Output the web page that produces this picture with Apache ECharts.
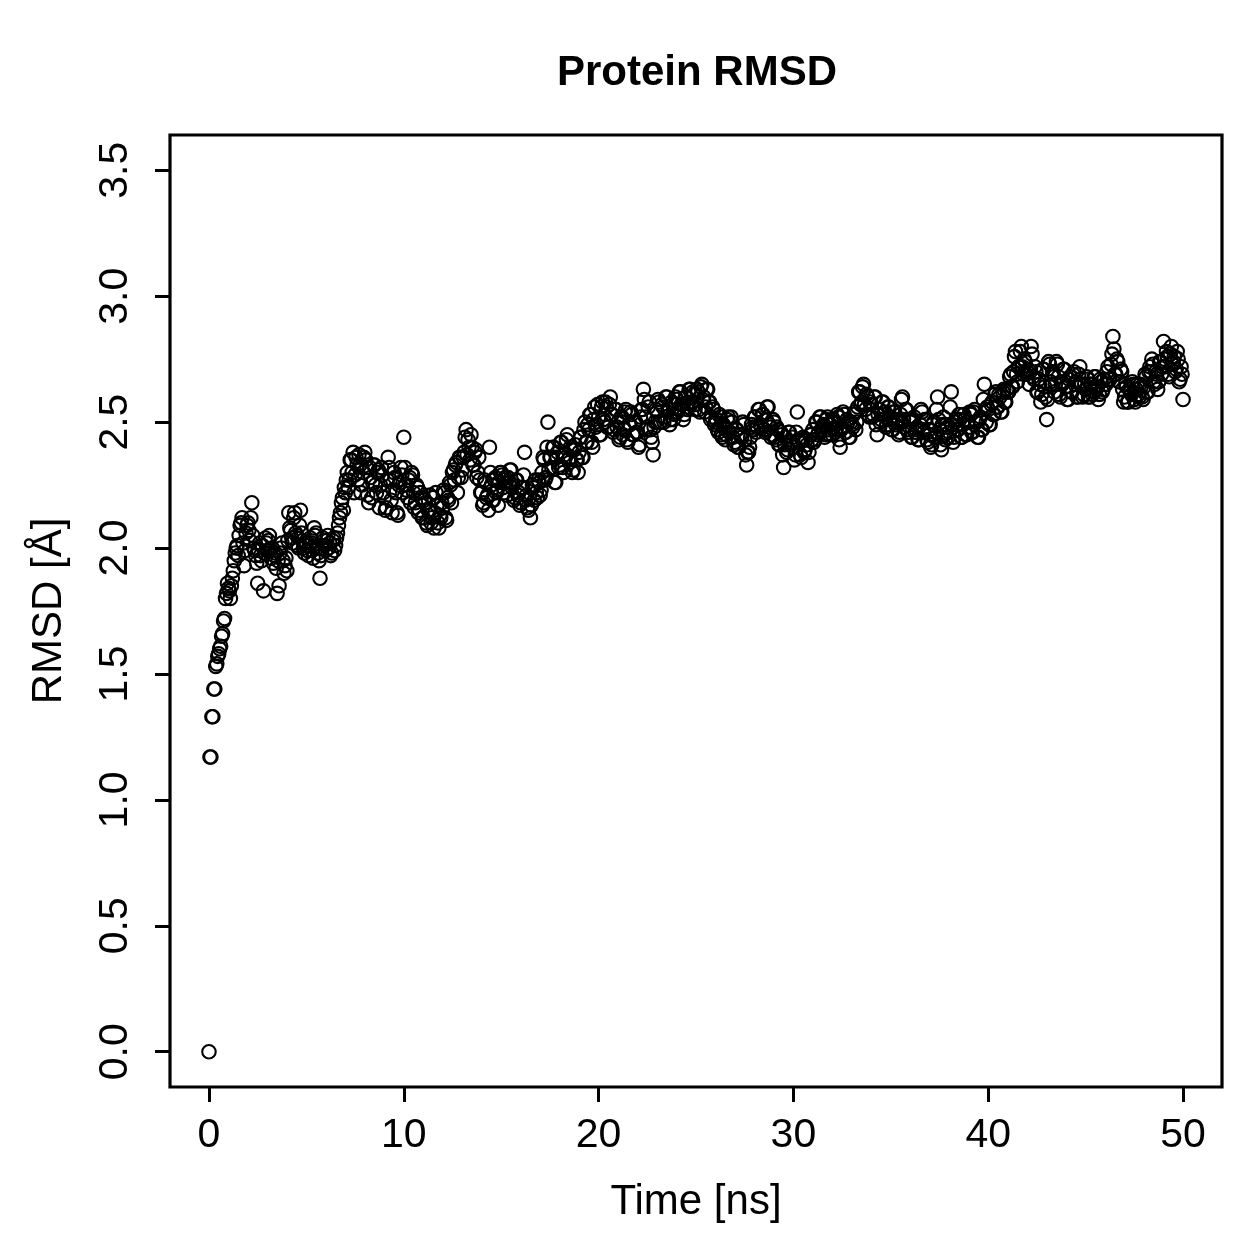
<!DOCTYPE html>
<html>
<head>
<meta charset="utf-8">
<script src="https://cdn.jsdelivr.net/npm/echarts@6/dist/echarts.min.js"></script>
<style>
  html, body { margin: 0; padding: 0; background: #fff; }
  #rmsd { width: 1259px; height: 1259px; }
</style>
</head>
<body>
<div id="rmsd"></div>
<script>
// time step of the trajectory frames (ns)
var timeStep = 0.1;

// RMSD [A] at t = 0.0, 0.1, 0.2 ... ns, one row per ns
var rmsdFrames = [
  0.00,1.17,1.33,1.44,1.54,1.58,1.61,1.66,1.72,1.82,
  1.84,1.80,1.88,1.95,2.00,1.97,2.09,2.12,1.93,2.06,
  2.10,2.03,2.18,2.00,1.97,1.86,2.02,1.95,1.83,2.04,
  1.99,2.05,1.96,1.94,1.98,1.82,1.85,2.00,1.95,1.93,
  1.91,2.14,2.07,2.02,2.14,2.05,2.00,2.15,2.03,1.98,
  2.02,1.97,2.04,1.99,2.08,2.06,1.98,1.88,2.00,2.03,
  1.99,2.05,2.02,1.98,2.04,2.01,2.06,2.12,2.18,2.15,
  2.22,2.30,2.27,2.35,2.38,2.29,2.33,2.37,2.22,2.30,
  2.38,2.32,2.18,2.28,2.26,2.33,2.22,2.31,2.25,2.29,
  2.20,2.16,2.36,2.27,2.14,2.30,2.22,2.13,2.26,2.29,
  2.44,2.25,2.20,2.28,2.30,2.22,2.18,2.24,2.15,2.20,
  2.12,2.18,2.09,2.15,2.10,2.20,2.14,2.17,2.08,2.12,
  2.16,2.22,2.11,2.19,2.25,2.30,2.27,2.34,2.28,2.36,
  2.31,2.38,2.47,2.43,2.35,2.40,2.33,2.39,2.30,2.27,
  2.22,2.18,2.26,2.21,2.40,2.25,2.19,2.28,2.23,2.26,
  2.30,2.24,2.28,2.21,2.26,2.31,2.25,2.20,2.27,2.22,
  2.18,2.24,2.38,2.21,2.15,2.12,2.25,2.19,2.22,2.27,
  2.21,2.30,2.35,2.28,2.50,2.36,2.32,2.40,2.26,2.38,
  2.33,2.42,2.30,2.36,2.45,2.34,2.39,2.31,2.41,2.35,
  2.38,2.44,2.36,2.50,2.42,2.47,2.53,2.40,2.56,2.49,
  2.52,2.45,2.58,2.50,2.56,2.48,2.60,2.53,2.47,2.55,
  2.50,2.44,2.52,2.47,2.55,2.42,2.49,2.53,2.45,2.50,
  2.46,2.41,2.55,2.63,2.52,2.48,2.58,2.44,2.37,2.50,
  2.54,2.58,2.50,2.56,2.52,2.60,2.55,2.51,2.57,2.53,
  2.59,2.55,2.62,2.57,2.53,2.60,2.56,2.63,2.58,2.61,
  2.57,2.62,2.54,2.65,2.60,2.56,2.63,2.58,2.52,2.55,
  2.50,2.47,2.53,2.45,2.49,2.43,2.51,2.46,2.52,2.44,
  2.42,2.47,2.40,2.45,2.50,2.43,2.33,2.38,2.44,2.48,
  2.52,2.46,2.55,2.49,2.53,2.47,2.51,2.56,2.48,2.45,
  2.50,2.43,2.47,2.41,2.45,2.32,2.44,2.39,2.46,2.42,
  2.40,2.37,2.54,2.42,2.36,2.44,2.39,2.41,2.38,2.45,
  2.47,2.43,2.50,2.46,2.52,2.48,2.44,2.51,2.47,2.49,
  2.45,2.50,2.47,2.52,2.40,2.48,2.53,2.46,2.50,2.44,
  2.49,2.53,2.47,2.56,2.62,2.58,2.65,2.55,2.60,2.52,
  2.57,2.53,2.60,2.45,2.55,2.51,2.58,2.54,2.49,2.56,
  2.52,2.47,2.54,2.50,2.45,2.53,2.60,2.48,2.55,2.46,
  2.50,2.44,2.52,2.47,2.43,2.49,2.54,2.46,2.51,2.42,
  2.45,2.41,2.50,2.44,2.60,2.47,2.39,2.52,2.43,2.48,
  2.46,2.62,2.42,2.50,2.47,2.53,2.44,2.49,2.51,2.45,
  2.48,2.53,2.46,2.55,2.50,2.44,2.52,2.47,2.65,2.50,
  2.55,2.49,2.58,2.53,2.62,2.56,2.60,2.54,2.63,2.58,
  2.62,2.68,2.64,2.70,2.78,2.66,2.72,2.80,2.69,2.74,
  2.70,2.65,2.80,2.68,2.72,2.62,2.67,2.58,2.71,2.64,
  2.51,2.74,2.66,2.70,2.62,2.74,2.68,2.60,2.65,2.71,
  2.64,2.59,2.68,2.62,2.70,2.66,2.60,2.72,2.65,2.61,
  2.63,2.67,2.60,2.65,2.62,2.68,2.64,2.61,2.66,2.63,
  2.65,2.70,2.67,2.73,2.84,2.69,2.75,2.66,2.71,2.63,
  2.60,2.64,2.58,2.62,2.66,2.59,2.63,2.61,2.65,2.60,
  2.64,2.68,2.62,2.72,2.75,2.66,2.70,2.63,2.74,2.69,
  2.82,2.72,2.76,2.68,2.80,2.74,2.70,2.78,2.66,2.72,
  2.59
];

// RMSD [A] at the in-between frames t = 0.05, 0.15, 0.25 ... ns
var rmsdHalfFrames = [
  1.17,1.33,1.44,1.53,1.57,1.60,1.65,1.71,1.80,1.86,
  1.83,1.85,1.91,1.98,2.01,2.05,2.10,2.02,1.99,2.09,
  2.07,2.12,2.05,1.99,1.94,1.99,1.97,2.01,1.98,2.02,
  2.03,1.99,2.00,1.97,1.92,1.95,1.98,2.02,1.90,1.96,
  2.03,2.08,2.04,2.12,2.06,2.01,2.09,2.06,2.00,2.01,
  1.99,2.01,2.02,1.96,2.05,2.00,1.95,1.97,2.04,2.01,
  2.03,2.00,1.97,2.03,1.99,2.04,2.09,2.14,2.20,2.24,
  2.27,2.24,2.35,2.30,2.22,2.36,2.27,2.33,2.25,2.36,
  2.35,2.21,2.32,2.20,2.33,2.25,2.30,2.16,2.32,2.22,
  2.15,2.27,2.32,2.19,2.23,2.28,2.14,2.25,2.32,2.22,
  2.32,2.23,2.27,2.18,2.29,2.16,2.25,2.14,2.22,2.12,
  2.19,2.10,2.15,2.21,2.12,2.08,2.22,2.10,2.13,2.18,
  2.23,2.12,2.20,2.26,2.18,2.31,2.33,2.22,2.36,2.28,
  2.36,2.44,2.37,2.40,2.45,2.33,2.38,2.28,2.36,2.22,
  2.17,2.27,2.20,2.15,2.30,2.19,2.27,2.22,2.17,2.30,
  2.29,2.22,2.26,2.28,2.31,2.24,2.19,2.27,2.21,2.17,
  2.24,2.29,2.19,2.16,2.20,2.17,2.24,2.27,2.20,2.26,
  2.23,2.36,2.27,2.40,2.31,2.36,2.40,2.26,2.36,2.32,
  2.42,2.32,2.37,2.43,2.35,2.40,2.30,2.39,2.35,2.30,
  2.44,2.36,2.47,2.42,2.49,2.53,2.42,2.51,2.48,2.57,
  2.45,2.56,2.51,2.58,2.48,2.57,2.53,2.46,2.55,2.48,
  2.43,2.52,2.45,2.54,2.43,2.49,2.54,2.45,2.50,2.46,
  2.40,2.52,2.55,2.59,2.47,2.56,2.47,2.42,2.48,2.55,
  2.59,2.50,2.57,2.50,2.60,2.54,2.49,2.58,2.51,2.60,
  2.54,2.62,2.57,2.51,2.60,2.55,2.63,2.57,2.62,2.55,
  2.63,2.55,2.64,2.59,2.54,2.63,2.58,2.51,2.56,2.49,
  2.51,2.46,2.52,2.44,2.48,2.45,2.52,2.46,2.50,2.41,
  2.47,2.40,2.45,2.44,2.49,2.37,2.38,2.40,2.49,2.47,
  2.52,2.48,2.55,2.48,2.53,2.46,2.56,2.49,2.44,2.51,
  2.44,2.48,2.41,2.46,2.37,2.41,2.38,2.46,2.41,2.44,
  2.35,2.46,2.43,2.37,2.43,2.38,2.43,2.34,2.45,2.43,
  2.42,2.50,2.45,2.52,2.47,2.49,2.45,2.52,2.45,2.50,
  2.51,2.46,2.53,2.43,2.47,2.54,2.46,2.51,2.44,2.50,
  2.48,2.54,2.50,2.62,2.57,2.64,2.57,2.61,2.53,2.58,
  2.52,2.60,2.49,2.53,2.50,2.58,2.53,2.48,2.56,2.51,
  2.47,2.54,2.49,2.51,2.46,2.59,2.51,2.55,2.47,2.51,
  2.44,2.51,2.46,2.48,2.43,2.55,2.47,2.51,2.43,2.47,
  2.40,2.49,2.44,2.55,2.51,2.41,2.49,2.45,2.49,2.44,
  2.56,2.49,2.44,2.51,2.47,2.51,2.44,2.53,2.45,2.50,
  2.54,2.46,2.54,2.50,2.44,2.51,2.47,2.59,2.55,2.56,
  2.49,2.57,2.53,2.61,2.56,2.61,2.54,2.62,2.58,2.63,
  2.62,2.69,2.64,2.76,2.69,2.72,2.78,2.72,2.75,2.69,
  2.71,2.70,2.77,2.67,2.70,2.62,2.65,2.61,2.71,2.60,
  2.59,2.73,2.65,2.69,2.65,2.73,2.61,2.66,2.71,2.64,
  2.59,2.67,2.62,2.69,2.65,2.60,2.69,2.65,2.60,2.65,
  2.68,2.60,2.65,2.61,2.68,2.63,2.59,2.67,2.62,2.67,
  2.65,2.72,2.67,2.77,2.79,2.69,2.74,2.66,2.70,2.58,
  2.65,2.58,2.63,2.61,2.65,2.58,2.65,2.60,2.64,2.59,
  2.69,2.62,2.70,2.70,2.73,2.65,2.69,2.66,2.74,2.72,
  2.75,2.78,2.69,2.77,2.73,2.76,2.71,2.75,2.67,2.69
];

var xTicks = [0, 10, 20, 30, 40, 50];
var yTicks = [0, 0.5, 1.0, 1.5, 2.0, 2.5, 3.0, 3.5];

var points = [];
rmsdFrames.forEach(function (v, i) {
  points.push([+(i * timeStep).toFixed(2), v]);
});
rmsdHalfFrames.forEach(function (v, i) {
  points.push([+(i * timeStep + timeStep / 2).toFixed(2), v]);
});

var chartDom = document.getElementById('rmsd');
var myChart = echarts.init(chartDom, null, { renderer: 'canvas' });
var font = '"Liberation Sans", Arial, Helvetica, sans-serif';

var option = {
  animation: false,
  backgroundColor: '#ffffff',
  title: {
    text: 'Protein RMSD',
    left: 552,
    top: 47,
    textStyle: { fontFamily: font, fontSize: 42, fontWeight: 'bold', color: '#000' }
  },
  grid: {
    left: 170, right: 37, top: 135, bottom: 172,
    show: true,
    borderColor: '#000',
    borderWidth: 3.2,
    backgroundColor: 'transparent'
  },
  xAxis: {
    type: 'value',
    min: -2,
    max: 52,
    name: 'Time [ns]',
    nameLocation: 'middle',
    nameGap: 94,
    nameTextStyle: { fontFamily: font, fontSize: 42, color: '#000' },
    splitLine: { show: false },
    axisLine: { show: false, onZero: false },
    axisTick: {
      show: true, length: 15, customValues: xTicks,
      lineStyle: { color: '#000', width: 3 }
    },
    axisLabel: {
      customValues: xTicks, margin: 28,
      fontFamily: font, fontSize: 41, color: '#000'
    }
  },
  yAxis: {
    type: 'value',
    min: -0.14,
    max: 3.64,
    name: 'RMSD [Å]',
    nameLocation: 'middle',
    nameGap: 100,
    nameRotate: 90,
    nameTextStyle: { fontFamily: font, fontSize: 42, color: '#000' },
    splitLine: { show: false },
    axisLine: { show: false, onZero: false },
    axisTick: {
      show: true, length: 15, customValues: yTicks,
      lineStyle: { color: '#000', width: 3 }
    },
    axisLabel: {
      customValues: yTicks, margin: 34, rotate: 90,
      fontFamily: font, fontSize: 41, color: '#000',
      formatter: function (v) { return v.toFixed(1); }
    }
  },
  series: [{
    type: 'scatter',
    data: points,
    symbol: 'circle',
    symbolSize: 13.5,
    itemStyle: {
      color: 'rgba(0,0,0,0)',
      borderColor: '#000',
      borderWidth: 2.1,
      opacity: 1
    },
    emphasis: { disabled: true }
  }]
};
option && myChart.setOption(option);
</script>
</body>
</html>
